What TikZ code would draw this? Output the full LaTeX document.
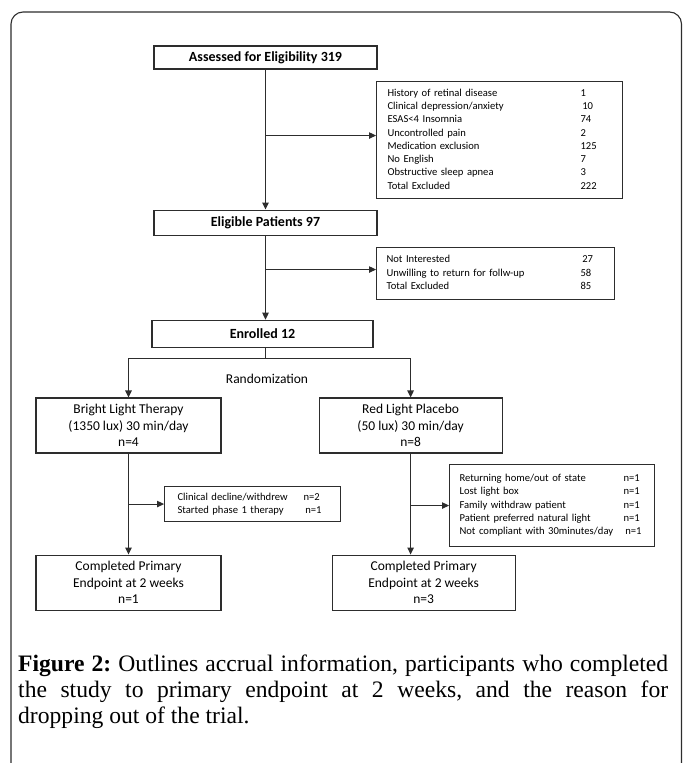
\documentclass[tikz,border=0pt]{standalone}
\usepackage{fontspec}
\setmainfont{Liberation Serif}
\newfontfamily\boxfont{Carlito}
\usepackage{tikz}
\usetikzlibrary{positioning, arrows.meta, calc}
\definecolor{linegray}{RGB}{45,45,45}

\begin{document}
\begin{tikzpicture}[x=1pt, y=-1pt,
  titlebox/.style={rectangle, draw=linegray, line width=1.1pt, inner sep=0pt,
    minimum width=223pt, minimum height=23pt,
    font=\boxfont\bfseries\fontsize{14}{17}\selectfont},
  armbox/.style={rectangle, draw=linegray, line width=1.1pt, inner sep=0pt,
    minimum width=185pt, minimum height=55pt, align=center,
    font=\boxfont\fontsize{13.5}{16.7}\selectfont},
  exclbox/.style={rectangle, draw=linegray, line width=1.1pt, anchor=north west,
    inner xsep=11pt, inner ysep=0pt, align=left,
    font=\boxfont\fontsize{10.6}{13.3}\selectfont},
  link/.style={-{Triangle[length=7pt, width=6.5pt]}, line width=1.1pt, draw=linegray},
  plain/.style={line width=1.1pt, draw=linegray}
]
  \useasboundingbox (0,0) rectangle (683,763);
  \draw[linegray, line width=1.1pt, rounded corners=12pt]
    (11,763) -- (11,12) -- (681.5,12) -- (681.5,763);

  % main column
  \node[titlebox] (assess) at (265.5,57.5) {Assessed for Eligibility 319};
  \node[titlebox, minimum height=25pt, below=140pt of assess] (eligible) {Eligible Patients 97};
  \node[titlebox, minimum width=221pt, minimum height=27pt, below=84pt of eligible,
    xshift=-3pt] (enrolled) {Enrolled 12};

  % arms
  \node[armbox] (bright) at (128.5,425.5) {Bright Light Therapy\\(1350 lux) 30 min/day\\n=4};
  \node[armbox, minimum width=183pt, right=97pt of bright] (red) {Red Light Placebo\\(50 lux) 30 min/day\\n=8};
  \node[armbox, below=101pt of bright] (compL) {Completed Primary\\Endpoint at 2 weeks\\n=1};
  \node[armbox, minimum width=183pt, below=101pt of red, xshift=13pt] (compR) {Completed Primary\\Endpoint at 2 weeks\\n=3};

  % exclusions
  \node[exclbox, text width=224pt, minimum height=117pt] (excl1) at (376,81) {%
    \begin{tabular}{@{}p{193pt}@{}l@{}}
      History of retinal disease & 1\\
      Clinical depression/anxiety & \,10\\
      ESAS<4 Insomnia & 74\\
      Uncontrolled pain & 2\\
      Medication exclusion & 125\\
      No English & 7\\
      Obstructive sleep apnea & 3\\
      Total Excluded & 222
    \end{tabular}};
  \node[exclbox, inner xsep=10pt, text width=218pt, minimum height=52pt] (excl2) at (376,247) {%
    \begin{tabular}{@{}p{194pt}@{}l@{}}
      Not Interested & \,27\\
      Unwilling to return for follw-up & 58\\
      Total Excluded & 85
    \end{tabular}};
  \node[exclbox, inner xsep=13pt, text width=150pt, minimum height=35pt] (drop1) at (164,486) {%
    \begin{tabular}{@{}p{126pt}@{}l@{}}
      Clinical decline/withdrew & n=2\\
      Started phase 1 therapy & \,n=1
    \end{tabular}};
  \node[exclbox, inner xsep=10pt, text width=185pt, minimum height=82pt] (drop2) at (449,464) {%
    \begin{tabular}{@{}p{164pt}@{}l@{}}
      Returning home/out of state & n=1\\
      Lost light box & n=1\\
      Family withdraw patient & n=1\\
      Patient preferred natural light & n=1\\
      Not compliant with 30minutes/day & \,n=1
    \end{tabular}};

  % connectors
  \coordinate (fork1) at ($(excl1.west)+(0,-4.5)$);
  \coordinate (fork2) at ($(excl2.west)+(0,-4)$);
  \coordinate (split) at ($(eligible.south |- enrolled.south)+(0,11)$);
  \draw[link] (assess) -- (eligible);
  \draw[link] (assess.south |- fork1) -- (fork1);
  \draw[link] (eligible.south) -- (eligible.south |- enrolled.north);
  \draw[link] (eligible.south |- fork2) -- (fork2);
  \draw[plain] (eligible.south |- enrolled.south) -- (split);
  \draw[link] (split) -| (bright.north);
  \draw[link] (split) -| (red.north);
  \node[font=\boxfont\fontsize{13.5}{16.7}\selectfont] (randlabel) at ($(split)+(1.5,20)$) {Randomization};
  \draw[link] (bright) -- (compL);
  \draw[link] (bright.south |- drop1.west) -- (drop1.west);
  \draw[link] (red.south) -- (red.south |- compR.north);
  \draw[link] (red.south |- drop2.west) -- (drop2.west);

  % caption
  \node[anchor=base west, inner sep=0pt, text width=650pt, align=justify,
    font=\fontsize{23.6}{26}\selectfont\frenchspacing] (caption) at (18,671)
    {\textbf{Figure 2:} Outlines accrual information, participants who completed\linebreak
     the study to primary endpoint at 2 weeks, and the reason for\linebreak
     dropping out of the trial.};
\end{tikzpicture}
\end{document}
